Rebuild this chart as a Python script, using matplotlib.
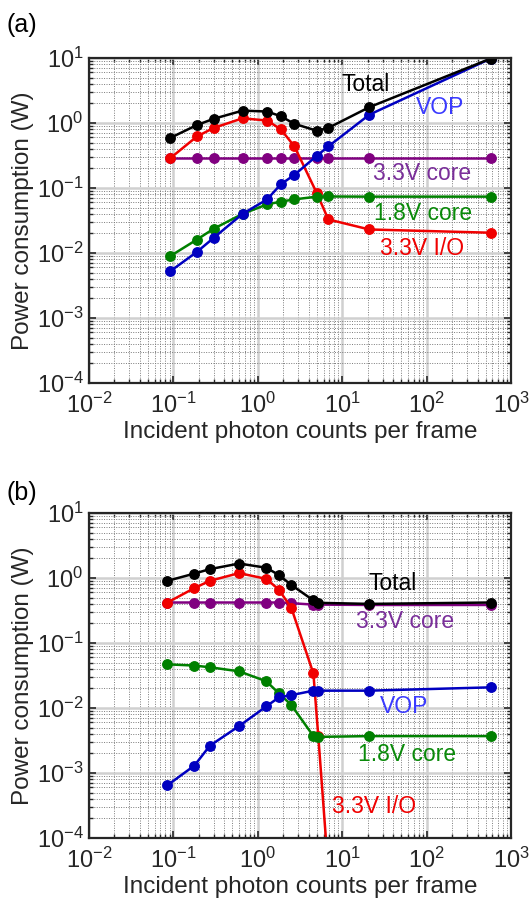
import numpy as np
import matplotlib
matplotlib.use("Agg")
import matplotlib.pyplot as plt
from matplotlib.ticker import LogLocator, NullFormatter

plt.rcParams['font.family'] = ['Liberation Sans', 'DejaVu Sans']
plt.rcParams['mathtext.default'] = 'regular'

# ---- panel (a) data ----
x_a = [0.091, 0.19, 0.30, 0.66, 1.29, 1.87, 2.71, 5.0, 6.84, 20.9, 574]
total_a = [0.586, 0.93, 1.16, 1.55, 1.50, 1.27, 0.97, 0.76, 0.84, 1.75, 9.8]
io_a = [0.285, 0.62, 0.84, 1.18, 1.09, 0.80, 0.437, 0.083, 0.0328, 0.023, 0.0205]
core33_a = [0.29, 0.29, 0.29, 0.29, 0.29, 0.29, 0.29, 0.29, 0.29, 0.29, 0.29]
core18_a = [0.0089, 0.0161, 0.0236, 0.040, 0.056, 0.0616, 0.0668, 0.0736, 0.074, 0.0736, 0.0736]
vop_a = [0.0052, 0.0104, 0.0171, 0.040, 0.0668, 0.114, 0.159, 0.313, 0.436, 1.34, 9.8]

# ---- panel (b) data ----
x_b = [0.085, 0.177, 0.27, 0.60, 1.26, 1.78, 2.5, 4.55, 5.2, 20.9, 574]
total_b = [0.905, 1.17, 1.37, 1.67, 1.44, 1.11, 0.78, 0.453, 0.415, 0.40, 0.42]
io_b = [0.42, 0.70, 0.905, 1.19, 0.97, 0.66, 0.344, 0.034, 0.0037, 1e-13]
core33_b = [0.42, 0.42, 0.42, 0.42, 0.42, 0.42, 0.41, 0.39, 0.39, 0.385, 0.385]
core18_b = [0.047, 0.045, 0.0424, 0.0367, 0.0258, 0.0168, 0.0111, 0.0037, 0.0036, 0.0037, 0.0037]
vop_b = [0.00065, 0.0013, 0.00263, 0.00528, 0.0106, 0.0146, 0.0158, 0.0185, 0.0185, 0.0185, 0.0208]

RED = '#f00000'
BLUE = '#0000c0'
PURPLE = '#800080'
GREEN = '#008000'
TXT = '#262626'
FS = 17.5      # axis labels / ticks
FT = 16.5      # curve labels


def style_axes(ax):
    ax.set_xscale('log')
    ax.set_yscale('log')
    ax.set_xlim(1e-2, 1e3)
    ax.set_ylim(1e-4, 1e1)
    ax.xaxis.set_major_locator(LogLocator(base=10, numticks=10))
    ax.yaxis.set_major_locator(LogLocator(base=10, numticks=10))
    ax.xaxis.set_minor_locator(LogLocator(base=10, subs=np.arange(2, 10), numticks=20))
    ax.yaxis.set_minor_locator(LogLocator(base=10, subs=np.arange(2, 10), numticks=20))
    ax.xaxis.set_minor_formatter(NullFormatter())
    ax.yaxis.set_minor_formatter(NullFormatter())
    ax.grid(True, which='major', color='#d0d0d0', lw=1.8, ls='-')
    ax.grid(True, which='minor', color='#7a7a7a', lw=0.7, ls=(0, (1, 1.5)))
    ax.set_axisbelow(True)
    ax.tick_params(which='both', direction='in', top=True, right=True,
                   color=TXT, labelcolor=TXT, labelsize=17)
    ax.tick_params(which='major', length=5, width=1.2)
    ax.tick_params(which='minor', length=3, width=1.0)
    ax.tick_params(axis='x', pad=7)
    ax.tick_params(axis='y', pad=4)
    for s in ax.spines.values():
        s.set_linewidth(1.6)
        s.set_color(TXT)
    ax.set_xlabel('Incident photon counts per frame', fontsize=FS, color=TXT, labelpad=2)
    ax.set_ylabel('Power consumption (W)', fontsize=FS, color=TXT, labelpad=2)


def draw(ax, x, total, io, c33, c18, vop):
    kw = dict(marker='o', ms=6.8, lw=1.8)
    ax.plot(x, c33, color=PURPLE, **kw)
    ax.plot(x[:len(io)], io, color=RED, **kw)
    ax.plot(x, c18, color=GREEN, **kw)
    ax.plot(x, vop, color=BLUE, **kw)
    ax.plot(x, total, color='k', **kw)


fig = plt.figure(figsize=(5.29, 9.13), dpi=100)

ax1 = fig.add_axes([0.1682, 0.5805, 0.798, 0.356])
style_axes(ax1)
draw(ax1, x_a, total_a, io_a, core33_a, core18_a, vop_a)
ax1.text(19.1, 3.86, 'Total', color='k', fontsize=FT, ha='center', va='center')
ax1.text(144, 1.76, 'VOP', color='#3a3aff', fontsize=FT, ha='center', va='center')
ax1.text(88, 0.169, '3.3V core', color='#7a2f9a', fontsize=FT, ha='center', va='center')
ax1.text(90.6, 0.0406, '1.8V core', color='#0a8a0a', fontsize=FT, ha='center', va='center')
ax1.text(88, 0.0117, '3.3V I/O', color=RED, fontsize=FT, ha='center', va='center')
fig.text(0.013, 0.973, '(a)', fontsize=18, color='k', ha='left', va='center')

ax2 = fig.add_axes([0.1682, 0.0821, 0.798, 0.356])
style_axes(ax2)
draw(ax2, x_b, total_b, io_b, core33_b, core18_b, vop_b)
ax2.text(40, 0.815, 'Total', color='k', fontsize=FT, ha='center', va='center')
ax2.text(55.5, 0.211, '3.3V core', color='#7a2f9a', fontsize=FT, ha='center', va='center')
ax2.text(54, 0.0107, 'VOP', color='#3a3aff', fontsize=FT, ha='center', va='center')
ax2.text(58.6, 0.00196, '1.8V core', color='#0a8a0a', fontsize=FT, ha='center', va='center')
ax2.text(23.8, 3.1e-4, '3.3V I/O', color=RED, fontsize=FT, ha='center', va='center')
fig.text(0.013, 0.4605, '(b)', fontsize=18, color='k', ha='left', va='center')

fig.savefig('out.png', dpi=100)
